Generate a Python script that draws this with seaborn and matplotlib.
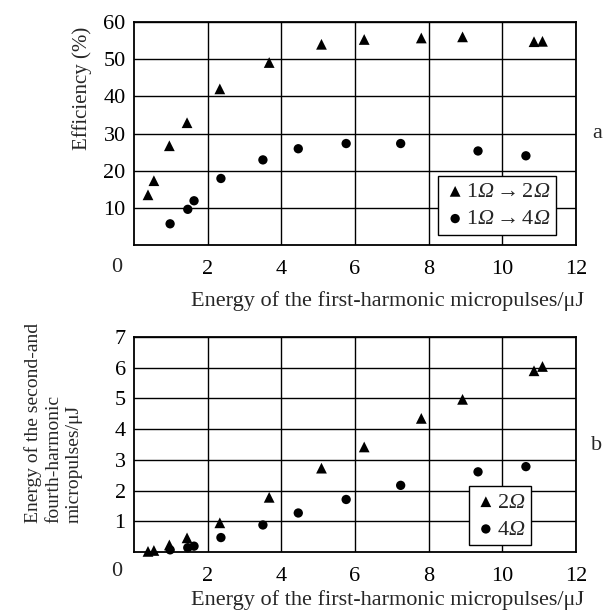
import matplotlib
matplotlib.use('Agg')
from matplotlib import pyplot as plt
import seaborn as sns
import pandas as pd

# first-harmonic energy (uJ) for the triangle / circle points
energy_1w_tri = [0.38, 0.54, 0.96, 1.44, 2.33, 3.67, 5.09, 6.25, 7.80, 8.92, 10.86, 11.09]
energy_1w_circ = [0.98, 1.46, 1.63, 2.36, 3.50, 4.46, 5.76, 7.24, 9.34, 10.64]

# panel a: efficiency (%)
eff_2w = [13.5, 17.3, 26.7, 32.9, 42.0, 49.1, 54.0, 55.3, 55.7, 56.0, 54.7, 54.8]
eff_4w = [5.7, 9.6, 11.9, 17.9, 22.9, 25.9, 27.3, 27.3, 25.3, 24.0]

# panel b: harmonic energy (uJ)
energy_2w = [0.02, 0.05, 0.23, 0.46, 0.95, 1.78, 2.73, 3.42, 4.35, 4.97, 5.90, 6.04]
energy_4w = [0.07, 0.14, 0.19, 0.47, 0.88, 1.27, 1.71, 2.17, 2.61, 2.78]

# italic Omega: \mathsf slot is mapped to the italic serif below
labels_a = [r'$1\mathsf{Ω}\rightarrow 2\mathsf{Ω}$', r'$1\mathsf{Ω}\rightarrow 4\mathsf{Ω}$']
labels_b = [r'$2\mathsf{Ω}$', r'$4\mathsf{Ω}$']
xlabel = 'Energy of the first-harmonic micropulses/\u03bcJ'

sns.set_theme(style='white')
plt.rcParams['font.family'] = ['Liberation Serif', 'DejaVu Serif']
plt.rcParams['mathtext.fontset'] = 'custom'
plt.rcParams['mathtext.rm'] = 'Liberation Serif'
plt.rcParams['mathtext.it'] = 'Liberation Serif:italic'
plt.rcParams['mathtext.sf'] = 'Liberation Serif:italic'
plt.rcParams['mathtext.bf'] = 'Liberation Serif:bold'
plt.rcParams['font.size'] = 16

FS = 16
W, H = 611, 612
fig = plt.figure(figsize=(W / 100, H / 100), dpi=100)

ax_a = fig.add_axes([134 / W, 1 - 245 / H, 442 / W, 223 / H])
ax_b = fig.add_axes([134 / W, 1 - 552 / H, 442 / W, 215 / H])

df_a_tri = pd.DataFrame({'x': energy_1w_tri, 'y': eff_2w})
df_a_circ = pd.DataFrame({'x': energy_1w_circ, 'y': eff_4w})
df_b_tri = pd.DataFrame({'x': energy_1w_tri, 'y': energy_2w})
df_b_circ = pd.DataFrame({'x': energy_1w_circ, 'y': energy_4w})


def draw_panel(ax, d_tri, d_circ, labels, yticks, ymax, legend_anchor):
    sns.scatterplot(data=d_tri, x='x', y='y', marker='^', s=60, color='black',
                    edgecolor='none', label=labels[0], ax=ax, clip_on=False, zorder=4)
    sns.scatterplot(data=d_circ, x='x', y='y', marker='o', s=45, color='black',
                    edgecolor='none', label=labels[1], ax=ax, clip_on=False, zorder=4)
    ax.set_xlim(0, 12)
    ax.set_ylim(0, ymax)
    ax.set_xticks(range(2, 13, 2))
    ax.set_yticks(yticks)
    ax.grid(True, color='black', linewidth=1.0)
    ax.set_axisbelow(True)
    for sp in ax.spines.values():
        sp.set_color('black')
        sp.set_linewidth(1.3)
    ax.tick_params(axis='both', length=0, labelsize=FS, colors='black')
    ax.tick_params(axis='x', pad=11)
    ax.tick_params(axis='y', pad=6)
    ax.set_xlabel('')
    ax.set_ylabel('')
    leg = ax.legend(loc='lower right', bbox_to_anchor=legend_anchor, borderaxespad=0,
                    fontsize=FS, frameon=True, fancybox=False, framealpha=1,
                    handletextpad=0.0, handlelength=1.0, borderpad=0.25,
                    labelspacing=0.3)
    leg.get_frame().set_edgecolor('black')
    leg.get_frame().set_linewidth(1.0)


draw_panel(ax_a, df_a_tri, df_a_circ, labels_a, range(10, 61, 10), 60, (0.955, 0.045))
draw_panel(ax_b, df_b_tri, df_b_circ, labels_b, range(1, 8), 7, (0.898, 0.031))

# shared corner zeros
fig.text(117 / W, 1 - 268 / H, '0', ha='center', va='center', fontsize=FS)
fig.text(117 / W, 1 - 572 / H, '0', ha='center', va='center', fontsize=FS)

# x labels
fig.text(584 / W, 1 - 301 / H, xlabel, ha='right', va='center', fontsize=FS)
fig.text(584 / W, 1 - 600 / H, xlabel, ha='right', va='center', fontsize=FS)

# y labels
fig.text(82 / W, 1 - 150 / H, 'Efficiency (%)', rotation=90, ha='center', va='bottom', fontsize=15)
fig.text(53 / W, 1 - 523 / H, 'Energy of the second-and\nfourth-harmonic\nmicropulses/\u03bcJ',
         rotation=90, ha='center', va='bottom', multialignment='left', linespacing=1.25, fontsize=14)

# panel letters
fig.text(597 / W, 1 - 133 / H, 'a', ha='center', va='center', fontsize=FS)
fig.text(597 / W, 1 - 446 / H, 'b', ha='center', va='center', fontsize=FS)

fig.savefig('out.png', dpi=100)
